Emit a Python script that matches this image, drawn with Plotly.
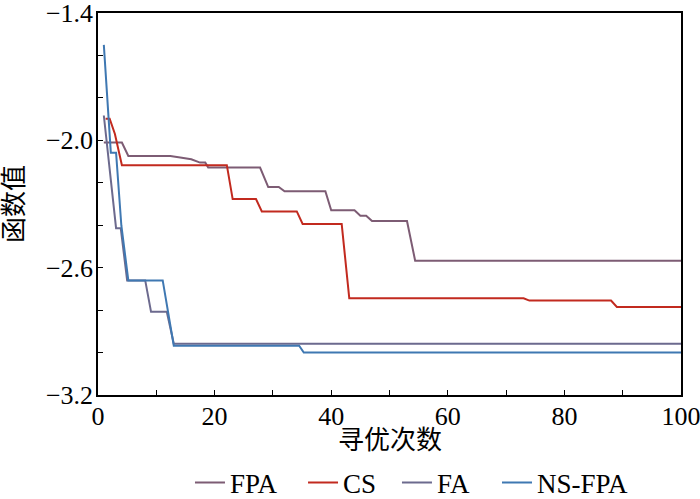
import plotly.graph_objects as go

# breakpoints of each convergence curve (iteration, function value)
fpa_x = [1, 4.1, 5.2, 12.4, 14.1, 16, 17.5, 18.4, 18.9, 27.8, 29.2, 31, 32, 39, 40, 44, 45, 46, 47, 53, 54.4, 100]
fpa_y = [-2.01, -2.01, -2.074, -2.074, -2.081, -2.089, -2.105, -2.105, -2.128, -2.128, -2.22, -2.22, -2.24, -2.24,
         -2.33, -2.33, -2.355, -2.355, -2.38, -2.38, -2.567, -2.567]

cs_x = [1.3, 2, 2.9, 4.1, 22.1, 23.1, 27.1, 28.1, 34.1, 35.1, 41.8, 43.1, 73, 74, 88, 89, 100]
cs_y = [-1.898, -1.898, -1.97, -2.117, -2.117, -2.277, -2.277, -2.335, -2.335, -2.394, -2.394, -2.744,
        -2.744, -2.755, -2.755, -2.785, -2.785]

fa_x = [1, 2, 3.1, 3.9, 5.0, 8.1, 9.1, 11.8, 13.0, 100]
fa_y = [-1.883, -2.14, -2.414, -2.414, -2.66, -2.66, -2.808, -2.808, -2.958, -2.958]

nsfpa_x = [1, 2.2, 3.1, 4, 5.2, 11.1, 13.0, 34.5, 35.3, 100]
nsfpa_y = [-1.55, -2.058, -2.058, -2.40, -2.66, -2.66, -2.968, -2.968, -3.0, -3.0]

names = ["FPA", "CS", "FA", "NS-FPA"]
colors = ["#7d5c74", "#c22a1f", "#6c6a8e", "#3f78b2"]

x_ticks = [0, 20, 40, 60, 80, 100]
y_ticks = [-3.2, -2.6, -2.0, -1.4]

FONT = "'Liberation Serif', 'Times New Roman', 'Noto Sans CJK SC', serif"

# one single-item legend per trace so the entries sit where the original has them
legend_ids = ["legend", "legend2", "legend3", "legend4"]
legend_x = [0.2714, 0.4329, 0.5671, 0.71]

fig = go.Figure()
for name, xs, ys, c, lid in zip(names, [fpa_x, cs_x, fa_x, nsfpa_x], [fpa_y, cs_y, fa_y, nsfpa_y],
                                colors, legend_ids):
    fig.add_trace(go.Scatter(x=xs, y=ys, mode="lines", name=name, legend=lid, showlegend=True,
                             line=dict(color=c, width=2)))

axis_style = dict(showline=True, linecolor="black", linewidth=1.5, mirror=True,
                  showgrid=False, zeroline=False, ticks="inside", ticklen=5,
                  tickcolor="black", tickwidth=1.3, automargin=False,
                  ticklabeloverflow="allow",
                  tickfont=dict(family=FONT, size=26, color="black"))

fig.update_xaxes(range=[0, 100], tickvals=x_ticks, ticklabelstandoff=-3,
                 minor=dict(dtick=10, ticks="inside", ticklen=5, tickcolor="black", tickwidth=1.3),
                 **axis_style)
fig.update_yaxes(range=[-3.2, -1.4], tickvals=y_ticks, tickformat=".1f", ticklabelstandoff=-2,
                 minor=dict(dtick=0.2, tick0=-3.2, ticks="inside", ticklen=5, tickcolor="black", tickwidth=1.3),
                 title=dict(text="函数值", font=dict(family=FONT, size=26, color="black"), standoff=15),
                 **axis_style)

# x title as an annotation so it can sit a little closer to the tick labels
fig.add_annotation(text="寻优次数", xref="paper", yref="paper", x=0.5, y=-0.118,
                   xanchor="center", yanchor="middle", showarrow=False,
                   font=dict(family=FONT, size=26, color="black"))

legends = {}
for lid, lx in zip(legend_ids, legend_x):
    legends[lid] = dict(orientation="h", xref="container", yref="container",
                        x=lx, xanchor="left", y=0.032, yanchor="middle",
                        font=dict(family=FONT, size=27, color="black"),
                        itemwidth=30, bgcolor="rgba(0,0,0,0)")

fig.update_layout(
    width=700, height=499,
    margin=dict(l=98, r=19, t=13, b=104),
    plot_bgcolor="white", paper_bgcolor="white",
    font=dict(family=FONT, size=26, color="black"),
    showlegend=True,
    **legends,
)

# drop the browser's default 8px body margin so the figure fills the window
fig.write_html("out.html", config={"displayModeBar": False},
               post_script="document.body.style.margin='0';")
